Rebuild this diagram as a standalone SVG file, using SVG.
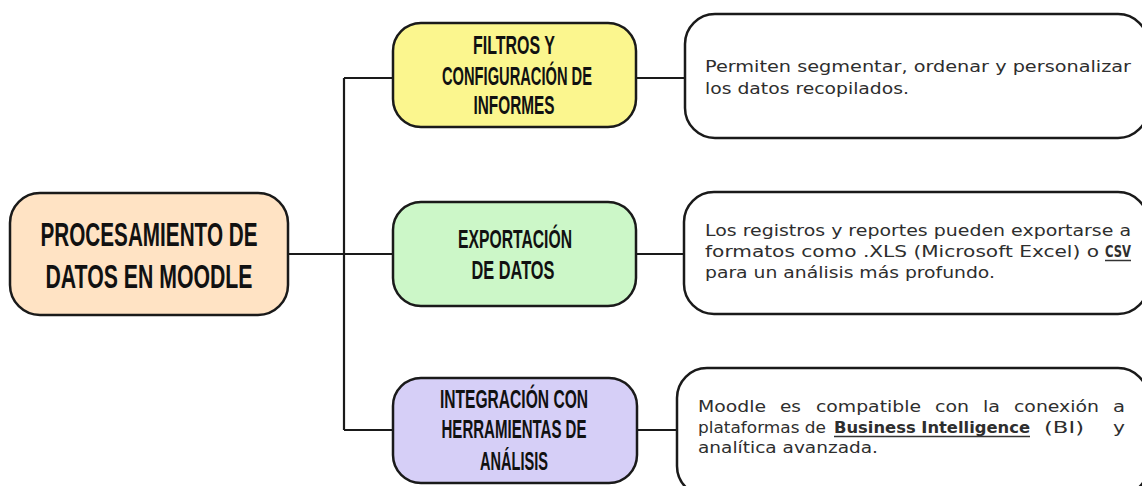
<svg xmlns="http://www.w3.org/2000/svg" width="1142" height="486" viewBox="0 0 1142 486">
<style>
.box{stroke:#1a1a1a;stroke-width:2.5}
.conn{stroke:#1a1a1a;stroke-width:2.2;fill:none}
.title{font-family:"Liberation Sans",Arial,sans-serif;font-weight:bold;fill:#111;text-anchor:middle}
.desc{font-family:"DejaVu Sans","Noto Sans",sans-serif;font-size:15px;fill:#2e2e2e}
.b{font-weight:bold}
.ul{stroke:#333;stroke-width:1.5}
</style>
<rect width="1142" height="486" fill="#ffffff"/>
<g id="connectors">
<path class="conn" d="M288 254 H393"/>
<path class="conn" d="M344 78 V430"/>
<path class="conn" d="M344 78 H393"/>
<path class="conn" d="M344 430 H393"/>
<path class="conn" d="M636 78 H685"/>
<path class="conn" d="M636 254 H684"/>
<path class="conn" d="M637 430 H677"/>
</g>
<g id="root">
<rect class="box" x="10" y="193" width="278" height="122" rx="30" fill="#FFE3C4"/>
<text class="title" font-size="33" x="149" y="246" textLength="217" lengthAdjust="spacingAndGlyphs">PROCESAMIENTO DE</text>
<text class="title" font-size="33" x="149" y="288" textLength="207" lengthAdjust="spacingAndGlyphs">DATOS EN MOODLE</text>
</g>
<g id="filtros">
<rect class="box" x="393" y="23" width="243" height="104" rx="28" fill="#FBF68E"/>
<text class="title" font-size="26" x="514" y="54" textLength="82" lengthAdjust="spacingAndGlyphs">FILTROS Y</text>
<text class="title" font-size="26" x="517" y="85" textLength="150" lengthAdjust="spacingAndGlyphs">CONFIGURACIÓN DE</text>
<text class="title" font-size="26" x="514" y="114" textLength="81" lengthAdjust="spacingAndGlyphs">INFORMES</text>
</g>
<g id="exportacion">
<rect class="box" x="393" y="202" width="243" height="104" rx="28" fill="#CCF7C8"/>
<text class="title" font-size="26" x="515" y="248" textLength="114" lengthAdjust="spacingAndGlyphs">EXPORTACIÓN</text>
<text class="title" font-size="26" x="513" y="279" textLength="83" lengthAdjust="spacingAndGlyphs">DE DATOS</text>
</g>
<g id="integracion">
<rect class="box" x="393" y="378" width="244" height="105" rx="28" fill="#D6CFF7"/>
<text class="title" font-size="26" x="514" y="408" textLength="148" lengthAdjust="spacingAndGlyphs">INTEGRACIÓN CON</text>
<text class="title" font-size="26" x="514" y="438" textLength="145" lengthAdjust="spacingAndGlyphs">HERRAMIENTAS DE</text>
<text class="title" font-size="26" x="514" y="470" textLength="68" lengthAdjust="spacingAndGlyphs">ANÁLISIS</text>
</g>
<g id="desc-filtros">
<rect class="box" x="685" y="14" width="463" height="124" rx="30" fill="#ffffff"/>
<text class="desc" x="705" y="72" textLength="426" lengthAdjust="spacingAndGlyphs">Permiten segmentar, ordenar y personalizar</text>
<text class="desc" x="705" y="94" textLength="204" lengthAdjust="spacingAndGlyphs">los datos recopilados.</text>
</g>
<g id="desc-exportacion">
<rect class="box" x="684" y="192" width="464" height="122" rx="30" fill="#ffffff"/>
<text class="desc" x="705" y="236" textLength="426" lengthAdjust="spacingAndGlyphs">Los registros y reportes pueden exportarse a</text>
<text class="desc" x="705" y="257" textLength="394" lengthAdjust="spacingAndGlyphs">formatos como .XLS (Microsoft Excel) o</text>
<text class="desc b" x="1105" y="257" textLength="26" lengthAdjust="spacingAndGlyphs">CSV</text>
<line class="ul" x1="1105" y1="260.5" x2="1131" y2="260.5"/>
<text class="desc" x="705" y="278" textLength="290" lengthAdjust="spacingAndGlyphs">para un análisis más profundo.</text>
</g>
<g id="desc-integracion">
<rect class="box" x="677" y="368" width="471" height="128" rx="30" fill="#ffffff"/>
<text class="desc" x="698" y="412" textLength="68" lengthAdjust="spacingAndGlyphs">Moodle</text>
<text class="desc" x="780" y="412" textLength="21" lengthAdjust="spacingAndGlyphs">es</text>
<text class="desc" x="816" y="412" textLength="105" lengthAdjust="spacingAndGlyphs">compatible</text>
<text class="desc" x="935" y="412" textLength="34" lengthAdjust="spacingAndGlyphs">con</text>
<text class="desc" x="983" y="412" textLength="17" lengthAdjust="spacingAndGlyphs">la</text>
<text class="desc" x="1014" y="412" textLength="85" lengthAdjust="spacingAndGlyphs">conexión</text>
<text class="desc" x="1113" y="412" textLength="12" lengthAdjust="spacingAndGlyphs">a</text>
<text class="desc" x="698" y="433" textLength="128" lengthAdjust="spacingAndGlyphs">plataformas de</text>
<text class="desc b" x="834" y="433" textLength="196" lengthAdjust="spacingAndGlyphs">Business Intelligence</text>
<line class="ul" x1="834" y1="436.5" x2="1030" y2="436.5"/>
<text class="desc" x="1044" y="433" textLength="40" lengthAdjust="spacingAndGlyphs">(BI)</text>
<text class="desc" x="1113" y="433" textLength="12" lengthAdjust="spacingAndGlyphs">y</text>
<text class="desc" x="698" y="453" textLength="180" lengthAdjust="spacingAndGlyphs">analítica avanzada.</text>
</g>
</svg>
